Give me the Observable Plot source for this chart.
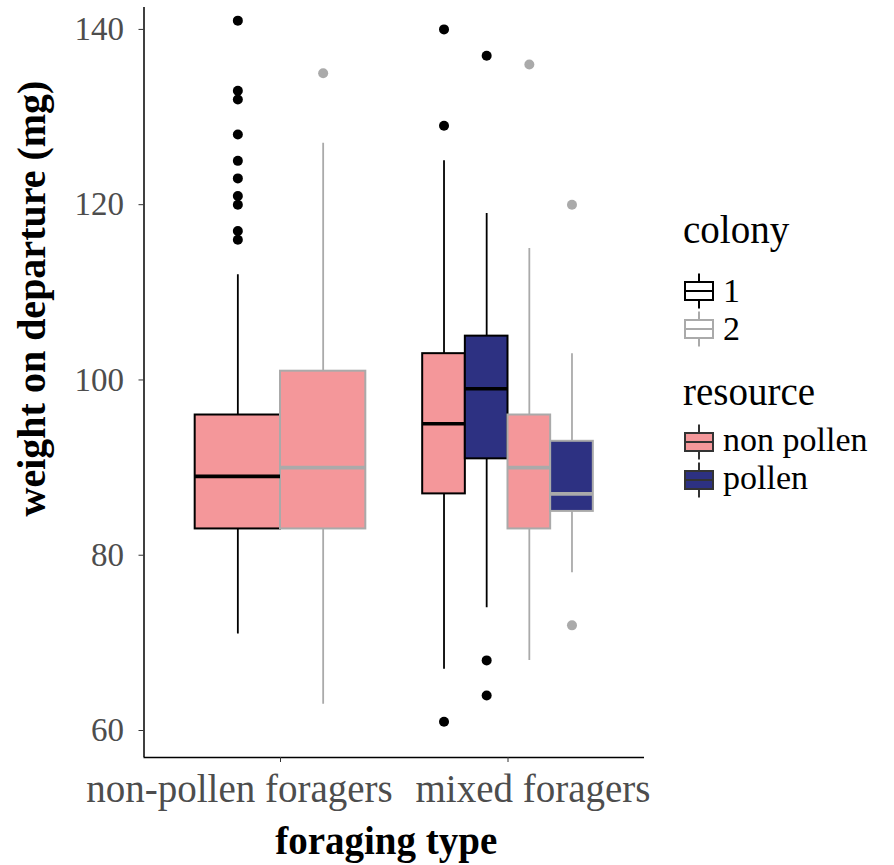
<!DOCTYPE html>
<html><head><meta charset="utf-8">
<script src="https://cdn.jsdelivr.net/npm/d3@7"></script>
<script src="https://cdn.jsdelivr.net/npm/@observablehq/plot@0.6"></script>
<style>
body{margin:0;background:#fff;}
#wrap{position:relative;width:894px;height:865px;font-family:"Liberation Serif","Times New Roman",serif;}
#chart{position:absolute;left:0;top:0;}
#legend{position:absolute;left:660px;top:0;}
</style></head><body>
<div id="wrap"><div id="chart"></div><div id="legend"></div></div>
<script>
// ---- data ----
const groups = ["non-pollen foragers", "mixed foragers"];
const colonies = ["1", "2"];
const resources = ["non pollen", "pollen"];
const boxGroup = ["non-pollen foragers", "non-pollen foragers", "mixed foragers", "mixed foragers", "mixed foragers", "mixed foragers"];
const boxColony = ["1", "2", "1", "1", "2", "2"];
const boxResource = ["non pollen", "non pollen", "non pollen", "pollen", "non pollen", "pollen"];
const whiskerLow = [71, 63, 67, 74, 68, 78];
const q1 = [83, 83, 87, 91, 83, 85];
const medians = [89, 90, 95, 99, 90, 87];
const q3 = [96, 101, 103, 105, 96, 93];
const whiskerHigh = [112, 127, 125, 119, 115, 103];
const outliers = [
  [141, 133, 132, 128, 125, 123, 121, 120, 117, 116],
  [135],
  [140, 129, 61],
  [137, 68, 64],
  [136],
  [120, 72]
];
const yTicks = [60, 80, 100, 120, 140];
const xTitle = "foraging type";
const yTitle = "weight on departure (mg)";
const colonyTitle = "colony";
const resourceTitle = "resource";
const fillColors = ["#F4979A", "#2D3182"];
const strokeColors = ["#000000", "#AAAAAA"];

// ---- derived table (dodged positions) ----
const dodgeWidth = 0.75;
const boxes = boxGroup.map((g, i) => {
  const gi = groups.indexOf(g) + 1;
  const members = boxGroup.map((h, j) => h === g ? j : -1).filter(j => j >= 0);
  const n = members.length, k = members.indexOf(i);
  const w = dodgeWidth / n;
  const cx = gi - dodgeWidth / 2 + (k + 0.5) * w;
  return {group: g, colony: boxColony[i], resource: boxResource[i], x: cx, x1: cx - w / 2, x2: cx + w / 2,
          lo: whiskerLow[i], q1: q1[i], med: medians[i], q3: q3[i], hi: whiskerHigh[i]};
});
const points = boxes.flatMap((b, i) => outliers[i].map(v => ({x: b.x, y: v, colony: b.colony})));
const strokeOf = d => strokeColors[colonies.indexOf(d.colony)];
const fillOf = d => fillColors[resources.indexOf(d.resource)];
const xDomain = [0.4, 2.6];
const yDomain = [56.92, 142.5];
const xLabelStyle = {tickSize: 0, tickPadding: 17, fontSize: 39, fill: "#4D4D4D", label: null, tickFormat: d => groups[d - 1]};

const chart = Plot.plot({
  width: 660, height: 865,
  marginLeft: 143.5, marginRight: 16, marginTop: 7, marginBottom: 108,
  style: {fontFamily: "Liberation Serif", background: "white", overflow: "visible"},
  x: {type: "linear", domain: xDomain, axis: null},
  y: {domain: yDomain, axis: null},
  color: {type: "identity"},
  marks: [
    Plot.ruleX(boxes, {x: "x", y1: "lo", y2: "hi", stroke: strokeOf, strokeWidth: 1.8}),
    Plot.rect(boxes, {x1: "x1", x2: "x2", y1: "q1", y2: "q3", fill: fillOf, stroke: strokeOf, strokeWidth: 2}),
    Plot.ruleY(boxes, {y: "med", x1: "x1", x2: "x2", stroke: strokeOf, strokeWidth: 3.6}),
    Plot.dot(points, {x: "x", y: "y", r: 5, fill: strokeOf, stroke: null}),
    Plot.ruleX([xDomain[0]], {stroke: "#000", strokeWidth: 1.5}),
    Plot.ruleY([yDomain[0]], {stroke: "#000", strokeWidth: 1.5}),
    Plot.axisY({ticks: yTicks, tickSize: 5, tickPadding: 15, fontSize: 33, fill: "#4D4D4D", stroke: "#333", label: null}),
    Plot.axisX({ticks: [1, 2], tickSize: 5, tickFormat: () => "", stroke: "#333", label: null}),
    Plot.axisX([1], {...xLabelStyle, dx: -41}),
    Plot.axisX([2], {...xLabelStyle, dx: 25}),
    Plot.text([xTitle], {text: d => d, frameAnchor: "bottom", textAnchor: "middle", dx: -8, dy: 96, fontSize: 39, fontWeight: "bold", fill: "#000"}),
    Plot.text([yTitle], {text: d => d, frameAnchor: "left", textAnchor: "middle", rotate: -90, dx: -111.5, dy: -84, fontSize: 40, fontWeight: "bold", fill: "#000"})
  ]
});
document.getElementById("chart").appendChild(chart);

// ---- legend ----
const ns = "http://www.w3.org/2000/svg";
const lsvg = document.createElementNS(ns, "svg");
lsvg.setAttribute("width", 234); lsvg.setAttribute("height", 865);
lsvg.style.fontFamily = "'Liberation Serif', serif";
function el(tag, attrs, parent) {
  const e = document.createElementNS(ns, tag);
  for (const k in attrs) e.setAttribute(k, attrs[k]);
  parent.appendChild(e); return e;
}
function txt(s, x, y, size) { const t = el("text", {x, y, "font-size": size, fill: "#000"}, lsvg); t.textContent = s; }
function key(cy, fill, stroke) {
  const g = el("g", {transform: `translate(25,${cy})`}, lsvg);
  el("line", {x1: 14, x2: 14, y1: -17.5, y2: 17.5, stroke, "stroke-width": 2}, g);
  el("rect", {x: 0, y: -9, width: 28, height: 18, fill, stroke, "stroke-width": 2}, g);
  el("line", {x1: 0, x2: 28, y1: 0, y2: 0, stroke, "stroke-width": 2}, g);
}
const rowStep = 38, labelSize = 34;
txt(colonyTitle, 23, 243, 39);
colonies.forEach((c, i) => { const cy = 291 + i * rowStep; key(cy, "#fff", strokeColors[i]); txt(c, 63, cy + 11, labelSize); });
txt(resourceTitle, 23, 405, 39);
resources.forEach((r, i) => { const cy = 442 + i * rowStep; key(cy, fillColors[i], "#333333"); txt(r, 63, cy + 9, labelSize); });
document.getElementById("legend").appendChild(lsvg);
</script>
</body></html>
